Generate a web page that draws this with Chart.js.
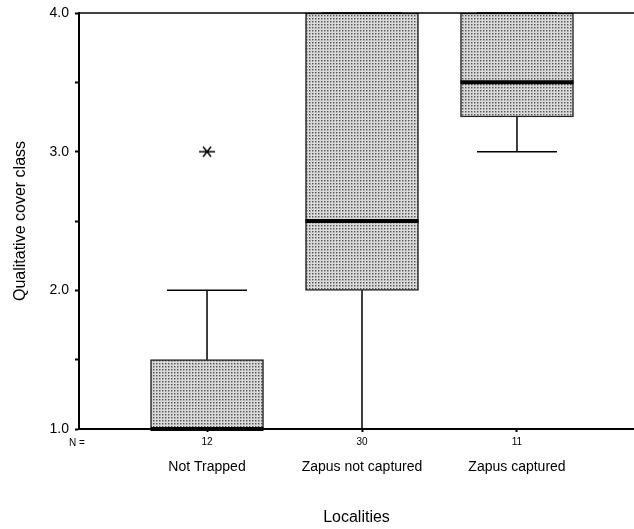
<!DOCTYPE html>
<html>
<head>
<meta charset="utf-8">
<script src="https://cdn.jsdelivr.net/npm/chart.js@4.4.1/dist/chart.umd.min.js"></script>
<style>
  html, body { margin: 0; background: #fff; overflow: hidden; }
  canvas { display: block; }
</style>
</head>
<body>
<canvas id="chart" width="634" height="529"></canvas>
<script>
const categories = ['Not Trapped', 'Zapus not captured', 'Zapus captured']
const positions = [1, 2, 3]
const counts = [12, 30, 11]
const whiskerLow = [1, 1, 3]
const quartile1 = [1, 2, 3.25]
const medians = [1, 2.5, 3.5]
const quartile3 = [1.5, 4, 4]
const whiskerHigh = [2, 4, 4]
const extremes = [[3], [], []]
const yTicks = [1, 1.5, 2, 2.5, 3, 3.5, 4]

const X_MIN = 0.174
const X_MAX = 3.755

Chart.defaults.font.family = 'Arial, "Liberation Sans", sans-serif'
Chart.defaults.color = '#000'

// stippled grey fill for the boxes
function stipple () {
  const c = document.createElement('canvas')
  c.width = 3
  c.height = 3
  const g = c.getContext('2d')
  g.fillStyle = '#dadada'
  g.fillRect(0, 0, 3, 3)
  g.fillStyle = '#a0a0a0'
  g.fillRect(1, 0, 1, 1)
  g.fillRect(0, 1, 1, 1)
  g.fillStyle = '#bcbcbc'
  g.fillRect(1, 1, 1, 1)
  g.fillStyle = '#555555'
  g.fillRect(0, 0, 1, 1)
  return g.createPattern(c, 'repeat')
}

// asterisk marker for extreme values
function asterisk () {
  const c = document.createElement('canvas')
  c.width = 18
  c.height = 14
  const g = c.getContext('2d')
  g.strokeStyle = '#000'
  g.lineWidth = 1.5
  g.beginPath()
  g.moveTo(1, 7); g.lineTo(17, 7)
  g.moveTo(5, 2); g.lineTo(13, 12)
  g.moveTo(13, 2); g.lineTo(5, 12)
  g.stroke()
  return c
}

const boxes = positions.map((p, i) => ({ x: p, y: [quartile1[i], quartile3[i]] }))
const outliers = extremes.flatMap((vals, i) => vals.map(v => ({ x: positions[i], y: v })))

const categoryTicks = s => { s.ticks = positions.map(v => ({ value: v })) }
// fixed axis band; no label overhang padding on the sides
const fitBand = h => s => {
  s.height = h
  s.paddingLeft = 0
  s.paddingRight = 0
}

const boxExtras = {
  id: 'boxExtras',
  afterDatasetsDraw (chart) {
    const { ctx, chartArea, scales: { x, y } } = chart
    ctx.save()
    ctx.strokeStyle = '#000'
    positions.forEach((p, i) => {
      const cx = x.getPixelForValue(p)
      const lo = y.getPixelForValue(whiskerLow[i])
      const hi = y.getPixelForValue(whiskerHigh[i])
      // whiskers and caps
      ctx.lineWidth = 1.5
      ctx.beginPath()
      ctx.moveTo(cx, y.getPixelForValue(quartile3[i])); ctx.lineTo(cx, hi)
      ctx.moveTo(cx, y.getPixelForValue(quartile1[i])); ctx.lineTo(cx, lo)
      ctx.moveTo(cx - 40, hi); ctx.lineTo(cx + 40, hi)
      ctx.moveTo(cx - 40, lo); ctx.lineTo(cx + 40, lo)
      ctx.stroke()
      // median
      const m = y.getPixelForValue(medians[i])
      ctx.lineWidth = 4
      ctx.beginPath()
      ctx.moveTo(cx - 56.5, m); ctx.lineTo(cx + 56.5, m)
      ctx.stroke()
    })
    // frame line along the top
    ctx.lineWidth = 1.5
    ctx.beginPath()
    ctx.moveTo(chartArea.left, chartArea.top)
    ctx.lineTo(chartArea.right, chartArea.top)
    ctx.stroke()
    ctx.restore()
  },
  afterDraw (chart) {
    const { ctx, chartArea } = chart
    ctx.save()
    ctx.font = '10px Arial, "Liberation Sans", sans-serif'
    ctx.fillStyle = '#000'
    ctx.textBaseline = 'middle'
    ctx.fillText('N =', chartArea.left - 10, chartArea.bottom + 14)
    ctx.restore()
  }
}

new Chart(document.getElementById('chart'), {
  type: 'bar',
  data: {
    datasets: [{
      data: boxes,
      backgroundColor: stipple(),
      borderColor: '#222',
      borderWidth: 1.5,
      borderSkipped: false,
      barThickness: 113,
      clip: false
    }, {
      type: 'scatter',
      data: outliers,
      pointStyle: asterisk(),
      pointRadius: 8,
      clip: false
    }]
  },
  options: {
    responsive: false,
    animation: false,
    events: [],
    layout: { autoPadding: false, padding: { top: 13, right: 0, bottom: 0, left: 0 } },
    plugins: { legend: { display: false }, tooltip: { enabled: false } },
    scales: {
      x: {
        type: 'linear',
        min: X_MIN,
        max: X_MAX,
        offset: false,
        afterBuildTicks: categoryTicks,
        ticks: {
          autoSkip: false,
          maxRotation: 0,
          font: { size: 10 },
          padding: 4,
          callback: v => counts[positions.indexOf(v)]
        },
        grid: { offset: false, drawOnChartArea: false, tickLength: 3, tickWidth: 2, color: '#000' },
        border: { color: '#000', width: 2 },
        afterFit: fitBand(24)
      },
      names: {
        type: 'linear',
        position: 'bottom',
        min: X_MIN,
        max: X_MAX,
        offset: false,
        afterBuildTicks: categoryTicks,
        ticks: {
          autoSkip: false,
          maxRotation: 0,
          font: { size: 14 },
          padding: 6,
          callback: v => categories[positions.indexOf(v)]
        },
        grid: { offset: false, display: false, drawTicks: false },
        border: { display: false },
        title: { display: true, text: 'Localities', font: { size: 16 }, padding: { top: 0, bottom: 2 } },
        afterFit: fitBand(76)
      },
      y: {
        min: 1,
        max: 4,
        afterBuildTicks: s => { s.ticks = yTicks.map(v => ({ value: v })) },
        ticks: {
          font: { size: 14 },
          padding: 6,
          callback: v => Number.isInteger(v) ? v.toFixed(1) : ''
        },
        grid: { drawOnChartArea: false, tickLength: 4, tickWidth: 2, color: '#000' },
        border: { color: '#000', width: 2 },
        title: { display: true, text: 'Qualitative cover class', font: { size: 16 }, padding: { top: 11, bottom: 0 } },
        afterFit: s => {
          s.width = 79
          s.paddingTop = 0
          s.paddingBottom = 0
        }
      }
    }
  },
  plugins: [boxExtras]
})
</script>
</body>
</html>
